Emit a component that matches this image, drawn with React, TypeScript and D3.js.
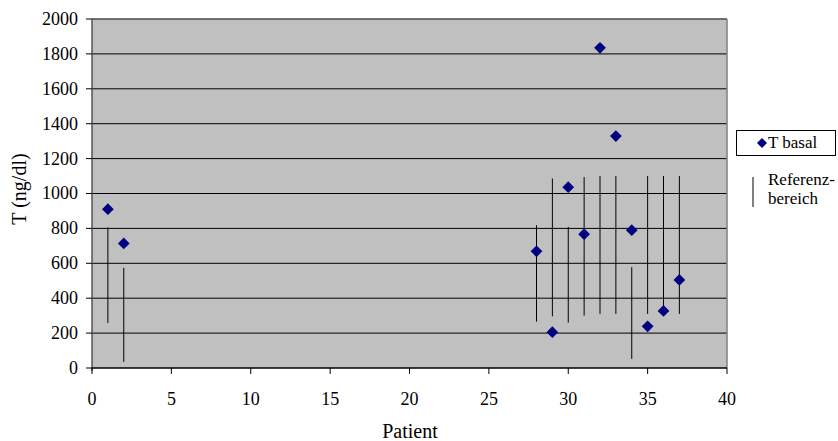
import React from "react";
import * as d3 from "d3";

// Patient numbers with measured basal testosterone
const patients = [1, 2, 28, 29, 30, 31, 32, 33, 34, 35, 36, 37];
const tBasal = [910, 714, 669, 205, 1036, 767, 1835, 1329, 790, 239, 327, 505];
// Reference range (low / high) per patient
const refLow = [258, 35, 266, 296, 260, 300, 310, 310, 52, 310, 298, 310];
const refHigh = [805, 574, 818, 1086, 809, 1094, 1100, 1100, 578, 1100, 1100, 1100];

const xTicks = [0, 5, 10, 15, 20, 25, 30, 35, 40];
const yTicks = [0, 200, 400, 600, 800, 1000, 1200, 1400, 1600, 1800, 2000];

const W = 838;
const H = 441;
const left = 92;
const right = 727;
const top = 19;
const bottom = 368;

export default function App() {
  const x = d3.scaleLinear().domain([0, 40]).range([left, right]);
  const y = d3.scaleLinear().domain([0, 2000]).range([bottom, top]);
  const diamond = d3.symbol().type(d3.symbolDiamond2).size(88)() as string;

  return (
    <svg
      width={W}
      height={H}
      style={{
        position: "absolute",
        left: 0,
        top: 0,
        background: "#fff",
        fontFamily: '"Liberation Serif", "Times New Roman", Times, serif',
      }}
    >
      {/* plot area */}
      <rect x={left} y={top} width={right - left} height={bottom - top} fill="#c0c0c0" />
      {yTicks.slice(1).map((t) => (
        <line key={"g" + t} x1={left} x2={right} y1={y(t)} y2={y(t)} stroke="#000" strokeWidth={1} />
      ))}
      <line x1={left} x2={right} y1={top} y2={top} stroke="#6e6e6e" strokeWidth={1.5} />
      <line x1={right} x2={right} y1={top} y2={bottom} stroke="#808080" strokeWidth={1.5} />

      {/* reference ranges */}
      {patients.map((p, i) => (
        <line
          key={"r" + p}
          x1={x(p)}
          x2={x(p)}
          y1={y(refLow[i])}
          y2={y(refHigh[i])}
          stroke="#000"
          strokeWidth={1}
        />
      ))}

      {/* basal values */}
      {patients.map((p, i) => (
        <path
          key={"p" + p}
          d={diamond}
          transform={`translate(${x(p)},${y(tBasal[i])})`}
          fill="#000080"
        />
      ))}

      {/* y axis */}
      <line x1={left} x2={left} y1={top} y2={bottom + 3} stroke="#555" strokeWidth={1.5} />
      {yTicks.map((t) => (
        <g key={"y" + t}>
          <line x1={left - 6} x2={left} y1={y(t)} y2={y(t)} stroke="#000" />
          <text x={78} y={y(t)} dy="0.33em" textAnchor="end" fontSize={18}>
            {t}
          </text>
        </g>
      ))}

      {/* x axis */}
      <line x1={left} x2={right} y1={bottom} y2={bottom} stroke="#000" strokeWidth={1.5} />
      {xTicks.map((t) => (
        <g key={"x" + t}>
          <line x1={x(t)} x2={x(t)} y1={bottom} y2={bottom + 6} stroke="#000" />
          <text x={x(t)} y={405} textAnchor="middle" fontSize={18}>
            {t}
          </text>
        </g>
      ))}

      <text x={410} y={438} textAnchor="middle" fontSize={20}>
        Patient
      </text>
      <text transform="translate(26,189) rotate(-90)" textAnchor="middle" fontSize={20}>
        T (ng/dl)
      </text>

      {/* legend */}
      <rect x={736.5} y={130.5} width={99} height={25} fill="#fff" stroke="#000" />
      <path d={diamond} transform="translate(762,143) scale(0.85)" fill="#000080" />
      <text x={768} y={148} fontSize={17}>
        T basal
      </text>
      <line x1={753} x2={753} y1={177} y2={207} stroke="#000" />
      <text x={768} y={185} fontSize={17}>
        Referenz-
      </text>
      <text x={768} y={204} fontSize={17}>
        bereich
      </text>
    </svg>
  );
}
